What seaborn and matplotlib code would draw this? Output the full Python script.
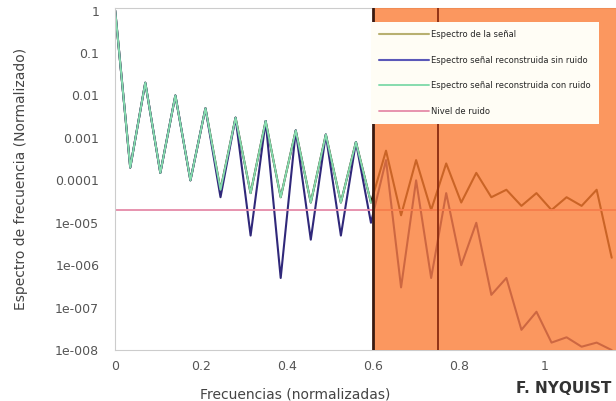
# espectro normalizado con la zona por encima de Nyquist sombreada
import numpy as np
import pandas as pd
from matplotlib import pyplot as plt
import seaborn as sns

# frecuencias (normalizadas) de los picos y valles
f_baja = [0, 0.035, 0.07, 0.105, 0.14, 0.175, 0.21, 0.245, 0.28, 0.315,
          0.35, 0.385, 0.42, 0.455, 0.49, 0.525, 0.56, 0.595]
f_alta = [0.63, 0.665, 0.70, 0.735, 0.77, 0.805, 0.84, 0.875, 0.91, 0.945,
          0.98, 1.015, 1.05, 1.085, 1.12, 1.155]

# espectro de la senal (verde claro, solo hasta 0.6)
verde = [1, 2e-4, 2e-2, 1.5e-4, 1e-2, 1e-4, 5e-3, 6e-5, 3e-3, 5e-5,
         2.5e-3, 4e-5, 1.5e-3, 3e-5, 1.2e-3, 3e-5, 8e-4, 3e-5]
# senal con valles mas profundos (azul)
azul_baja = [1, 2e-4, 2e-2, 1.5e-4, 1e-2, 1e-4, 5e-3, 4e-5, 3e-3, 5e-6,
             2.5e-3, 5e-7, 1.5e-3, 4e-6, 1.2e-3, 5e-6, 8e-4, 1e-5]
azul_alta = [3e-4, 3e-7, 1e-4, 5e-7, 5e-5, 1e-6, 1e-5, 2e-7, 5e-7, 3e-8,
             8e-8, 1.5e-8, 2e-8, 1.2e-8, 1.5e-8, 1e-8]
# senal con ruido (oliva)
oliva_alta = [5e-4, 1.5e-5, 3e-4, 2e-5, 2.5e-4, 3e-5, 1.5e-4, 4e-5, 6e-5, 2.5e-5,
              5e-5, 2e-5, 4e-5, 2.5e-5, 6e-5, 1.5e-6]
nivel_ruido = 2e-5

etiquetas = ['Espectro de la señal',
             'Espectro señal reconstruida sin ruido',
             'Espectro señal reconstruida con ruido',
             'Nivel de ruido']
yticks = [1, 0.1, 0.01, 0.001, 0.0001, 1e-5, 1e-6, 1e-7, 1e-8]
yticklabels = ['1', '0.1', '0.01', '0.001', '0.0001', '1e-005', '1e-006', '1e-007', '1e-008']

sns.set_style('white')
fig = plt.figure(figsize=(6.16, 4.01), dpi=100)
ax = fig.add_axes([0.187, 0.127, 0.813, 0.853])

df_oliva = pd.DataFrame({'f': f_baja + f_alta, 'a': verde + oliva_alta})
df_azul = pd.DataFrame({'f': f_baja + f_alta, 'a': azul_baja + azul_alta})
df_verde = pd.DataFrame({'f': f_baja, 'a': verde})

sns.lineplot(data=df_oliva, x='f', y='a', ax=ax, color='#221800', lw=1.5, label=etiquetas[0], zorder=2)
sns.lineplot(data=df_azul, x='f', y='a', ax=ax, color='#30287a', lw=1.5, label=etiquetas[1], zorder=2)
sns.lineplot(data=df_verde, x='f', y='a', ax=ax, color='#86dcae', lw=1.4, label=etiquetas[2], zorder=2)
ax.axhline(nivel_ruido, color='#e58aa8', lw=1.3, label=etiquetas[3], zorder=2)

ax.set_yscale('log')
ax.set_ylim(1e-8, 1.15)
ax.set_xlim(0, 1.165)

# zona por encima de Nyquist
ax.axvspan(0.6, 1.2, color='#fb7a32', alpha=0.78, lw=0, zorder=3)
ax.axvline(0.6, color='#3a1a10', lw=2, zorder=4)
ax.axvline(0.75, color='#8a2a10', lw=1.3, zorder=4)

ax.set_yticks(yticks)
ax.set_yticklabels(yticklabels)
ax.minorticks_off()
ax.set_xticks([0, 0.2, 0.4, 0.6, 0.8, 1])
ax.set_xticklabels(['0', '0.2', '0.4', '0.6', '0.8', '1'])
ax.tick_params(labelsize=9, colors='#555555')
ax.tick_params(axis='y', pad=8)
ax.tick_params(axis='x', pad=4)

ax.set_ylabel('Espectro de frecuencia (Normalizado)', fontsize=10, color='#444444')
ax.set_xlabel('Frecuencias (normalizadas)', fontsize=10, color='#444444')
ax.xaxis.set_label_coords(0.36, -0.11)
ax.yaxis.set_label_coords(-0.175, 0.5)

for s in ax.spines.values():
    s.set_color('#cccccc')

leg = ax.legend(loc='upper left', bbox_to_anchor=(0.51, 0.96), fontsize=6,
                handlelength=6, frameon=True, facecolor='#fffdf5', edgecolor='none',
                fancybox=False, framealpha=1, borderaxespad=0, labelspacing=2.0,
                borderpad=1.0, handletextpad=0.3)
leg.set_zorder(5)
# colores de la leyenda como en el original
for h, c in zip(leg.get_lines(), ['#b8b070', '#5a58b8', '#86dcae', '#e58aa8']):
    h.set_color(c)

fig.text(0.993, 0.02, 'F. NYQUIST', ha='right', fontsize=11, fontweight='bold', color='#333333')

plt.savefig('out.png', dpi=100)
